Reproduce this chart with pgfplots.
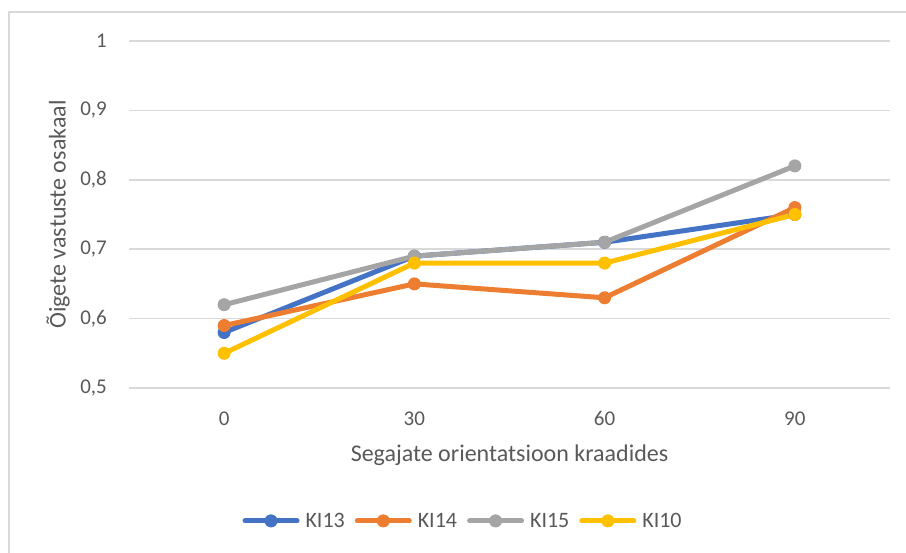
\documentclass[border=0pt]{standalone}
\usepackage{pgfplots}
\pgfplotsset{compat=1.18}
\usepackage{fontspec}
\setmainfont{Carlito}
\definecolor{cblue}{HTML}{4472C4}
\definecolor{corange}{HTML}{ED7D31}
\definecolor{cgray}{HTML}{A5A5A5}
\definecolor{cyellow}{HTML}{FFC000}
\definecolor{gridc}{HTML}{D9D9D9}
\definecolor{txt}{HTML}{595959}
\begin{document}
\begin{tikzpicture}
\useasboundingbox (0pt,0pt) rectangle (906pt,553pt);
\draw[gridc, line width=2pt] (9pt,-5pt) -- (9pt,541pt) -- (915pt,541pt);
\begin{axis}[
  at={(129pt,165pt)}, anchor=south west,
  scale only axis, width=761pt, height=347pt,
  xmin=-0.5, xmax=3.5, ymin=0.5, ymax=1,
  xtick={0,1,2,3}, xticklabels={0,30,60,90},
  ytick={0.5,0.6,0.7,0.8,0.9,1},
  /pgf/number format/use comma,
  /pgf/number format/fixed,
  /pgf/number format/precision=1,
  /pgf/number format/assume math mode=true,
  axis line style={draw=none},
  major tick length=0pt,
  ymajorgrids, grid style={draw=gridc, line width=1.5pt},
  tick label style={font=\fontsize{21}{25}\selectfont, text=txt, inner sep=0pt},
  xticklabel style={anchor=center, yshift=-30.5pt},
  yticklabel style={anchor=east, xshift=-22pt},
  xlabel={Segajate orientatsioon kraadides},
  ylabel={Õigete vastuste osakaal},
  label style={font=\fontsize{24}{28}\selectfont, text=txt},
  xlabel style={at={(axis description cs:0.5,-0.195)}, anchor=center},
  ylabel style={at={(axis description cs:-0.093,0.5)}, anchor=center},
  legend columns=4,
  legend style={at={(axis description cs:0.439,-0.383)}, anchor=center, draw=none,
    font=\fontsize{22}{26}\selectfont, text=txt, inner sep=0pt,
    /tikz/every odd column/.append style={column sep=4pt},
    /tikz/every even column/.append style={column sep=8pt}},
  legend image code/.code={
    \draw[#1, mark=none, line cap=round] (0pt,0pt) -- (52pt,0pt);
    \draw[#1, draw=none] plot coordinates {(26pt,0pt)};
  },
  every axis plot/.append style={line width=5pt, mark=*, mark size=6pt, line join=round},
]
\addplot[color=cblue, mark options={fill=cblue, line width=1pt}] coordinates {(0,0.58) (1,0.69) (2,0.71) (3,0.75)};
\addlegendentry{KI13}
\addplot[color=corange, mark options={fill=corange, line width=1pt}] coordinates {(0,0.59) (1,0.65) (2,0.63) (3,0.76)};
\addlegendentry{KI14}
\addplot[color=cgray, mark options={fill=cgray, line width=1pt}] coordinates {(0,0.62) (1,0.69) (2,0.71) (3,0.82)};
\addlegendentry{KI15}
\addplot[color=cyellow, mark options={fill=cyellow, line width=1pt}] coordinates {(0,0.55) (1,0.68) (2,0.68) (3,0.75)};
\addlegendentry{KI10}
\end{axis}
\end{tikzpicture}
\end{document}
